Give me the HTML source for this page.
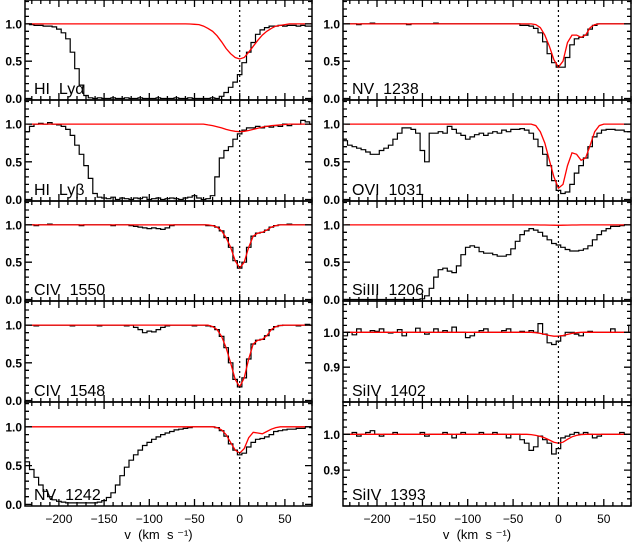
<!DOCTYPE html>
<html><head><meta charset="utf-8">
<style>
html,body{margin:0;padding:0;background:#fff;}
svg{display:block;}
text{font-family:"Liberation Sans",sans-serif;fill:#000;}
</style></head>
<body>
<svg id="chart" width="632" height="542" viewBox="0 0 632 542" xmlns="http://www.w3.org/2000/svg"></svg>
<script>
// velocity grid (km/s)
const velocities = [];
for (let v = -235; v <= 80; v += 5) velocities.push(v);

const xTicksMajor = [-200,-150,-100,-50,0,50];
const xTickLabels = ["\u2212200","\u2212150","\u2212100","\u221250","0","50"];

const obsLya = [1.0,0.99,0.98,0.98,0.97,0.97,0.96,0.93,
0.88,0.80,0.62,0.40,0.18,0.04,0.01,0.0,
0.01,0.0,0.0,0.01,0.0,0.0,0.01,0.0,
0.0,0.01,0.0,0.0,0.0,0.01,0.0,0.0,
0.0,0.01,0.0,0.0,0.01,0.0,0.0,0.0,
0.0,0.01,0.0,0.03,0.08,0.15,0.22,0.32,
0.48,0.62,0.75,0.86,0.92,0.95,0.97,0.97,
0.98,0.97,0.98,0.98,0.97,0.98,0.97,0.97];
const modLya = [1,1,1,1,1,1,1,1, 1,1,1,1,1,1,1,1, 1,1,1,1,1,1,1,1, 1,1,1,1,1,1,1,1,
1,1,1,1,0.998,0.995,0.99,0.97,
0.94,0.90,0.84,0.76,0.67,0.60,0.55,0.53,
0.55,0.62,0.70,0.78,0.85,0.90,0.94,0.97,
0.98,0.99,1,1,1,1,1,1];

const obsLyb = [0.90,0.97,1.0,1.01,1.0,1.02,1.0,0.99,
0.97,0.93,0.85,0.72,0.60,0.45,0.28,0.08,
0.03,0.02,0.01,0.03,0.0,0.02,0.01,0.0,
0.02,0.01,0.03,0.0,0.01,0.02,0.0,0.01,
0.02,0.01,0.0,0.02,0.03,0.05,0.02,0.0,
0.01,0.05,0.30,0.55,0.65,0.70,0.80,0.87,
0.92,0.95,0.95,0.97,0.95,0.97,0.96,0.98,
0.97,1.0,0.98,1.0,1.0,1.05,1.03,1.0];
const modLyb = [1,1,1,1,1,1,1,1, 1,1,1,1,1,1,1,1, 1,1,1,1,1,1,1,1, 1,1,1,1,1,1,1,1,
1,1,1,1,1,1,1,1,
0.99,0.98,0.965,0.95,0.93,0.915,0.905,0.90,
0.905,0.915,0.93,0.945,0.96,0.97,0.98,0.985,
0.99,0.995,1,1,1,1,1,1];

const obsC1550 = [1.0,1.0,0.99,1.0,1.0,1.01,1.0,1.0,
1.0,1.0,1.0,1.0,0.99,1.0,1.0,1.0,
1.0,1.0,1.0,0.99,1.0,1.0,1.0,0.99,
0.98,0.97,0.96,0.95,0.96,0.95,0.94,0.96,
0.99,1.0,1.0,1.0,1.0,1.0,1.0,1.0,
0.99,0.99,0.97,0.92,0.83,0.70,0.52,0.42,
0.50,0.70,0.85,0.89,0.90,0.93,0.97,0.99,
1.0,1.0,1.01,1.0,1.0,1.0,1.0,1.0];
const modC1550 = [1,1,1,1,1,1,1,1, 1,1,1,1,1,1,1,1, 1,1,1,1,1,1,1,1, 1,1,1,1,1,1,1,1,
1,1,1,1,1,1,1,1,
1,0.99,0.97,0.92,0.83,0.70,0.52,0.42,
0.50,0.70,0.85,0.89,0.90,0.93,0.97,0.99,
1,1,1,1,1,1,1,1];

const obsC1548 = [1.0,1.0,0.99,1.0,1.0,1.0,1.0,1.0,
1.0,1.0,0.99,1.0,1.0,1.0,1.0,1.0,
0.99,1.0,1.0,1.0,1.0,1.0,0.99,1.0,
0.97,0.94,0.90,0.92,0.91,0.94,0.97,0.99,
1.0,1.0,1.0,1.0,1.0,0.99,1.0,1.0,
0.99,0.98,0.94,0.85,0.70,0.50,0.28,0.18,
0.30,0.55,0.75,0.80,0.81,0.86,0.94,0.98,
0.995,1.0,1.0,1.0,0.99,1.0,1.01,1.0];
const modC1548 = [1,1,1,1,1,1,1,1, 1,1,1,1,1,1,1,1, 1,1,1,1,1,1,1,1, 1,1,1,1,1,1,1,1,
1,1,1,1,1,1,1,1,
1,0.98,0.94,0.85,0.70,0.50,0.28,0.18,
0.30,0.55,0.75,0.80,0.81,0.86,0.94,0.98,
0.995,1,1,1,1,1,1,1];

const obsN1242 = [0.55,0.45,0.35,0.25,0.17,0.10,0.06,0.04,
0.03,0.02,0.02,0.02,0.02,0.02,0.02,0.02,
0.03,0.05,0.09,0.15,0.25,0.37,0.48,0.57,
0.64,0.70,0.76,0.80,0.84,0.87,0.90,0.92,
0.94,0.96,0.97,0.98,0.99,1.0,1.0,1.0,
1.0,1.0,0.99,0.95,0.88,0.78,0.70,0.64,
0.66,0.74,0.80,0.84,0.85,0.87,0.90,0.94,
0.95,0.96,0.97,0.97,0.98,0.98,1.0,0.99];
const modN1242 = [1,1,1,1,1,1,1,1, 1,1,1,1,1,1,1,1, 1,1,1,1,1,1,1,1, 1,1,1,1,1,1,1,1,
1,1,1,1,1,1,1,1,
1,1,0.99,0.96,0.90,0.80,0.70,0.66,
0.72,0.86,0.93,0.92,0.91,0.94,0.97,0.99,
1,1,1,1,1,1,1,1];

const obsN1238 = [1.0,1.0,1.0,0.99,1.0,1.0,1.01,1.0,
1.0,1.0,1.0,1.0,1.0,1.0,0.99,1.0,
1.0,1.0,1.0,1.0,1.01,1.0,1.0,1.0,
1.0,1.0,1.0,1.0,1.0,1.0,1.0,1.0,
1.0,1.0,1.0,1.0,1.0,1.0,1.0,0.98,
0.98,0.97,0.94,0.88,0.76,0.60,0.48,0.42,
0.42,0.55,0.72,0.80,0.82,0.85,0.93,0.98,
1.0,1.0,1.0,1.0,1.0,1.0,1.0,1.0];
const modN1238 = [1,1,1,1,1,1,1,1, 1,1,1,1,1,1,1,1, 1,1,1,1,1,1,1,1, 1,1,1,1,1,1,1,1,
1,1,1,1,1,1,1,1,
1,1,0.99,0.95,0.85,0.70,0.52,0.42,
0.50,0.75,0.85,0.85,0.82,0.85,0.95,0.99,
1,1,1,1,1,1,1,1];

const obsO1031 = [0.78,0.72,0.70,0.68,0.66,0.63,0.60,0.60,
0.65,0.68,0.72,0.80,0.88,0.95,0.95,0.93,
0.88,0.65,0.50,0.88,0.88,0.90,0.88,0.97,
0.93,0.88,0.85,0.80,0.83,0.86,0.88,0.85,
0.88,0.90,0.88,0.92,0.90,0.93,0.93,0.94,
0.92,0.88,0.80,0.70,0.60,0.45,0.25,0.12,
0.08,0.10,0.20,0.35,0.45,0.55,0.70,0.83,
0.88,0.92,0.93,0.93,0.92,0.92,0.90,0.90];
const modO1031 = [1,1,1,1,1,1,1,1, 1,1,1,1,1,1,1,1, 1,1,1,1,1,1,1,1, 1,1,1,1,1,1,1,1,
1,1,1,1,1,1,1,1,
1,1,0.98,0.90,0.75,0.52,0.30,0.15,
0.20,0.45,0.62,0.60,0.52,0.55,0.72,0.90,
0.98,1,1,1,1,1,1,1];

const obsSi1206 = [0.0,0.0,0.0,0.0,0.0,0.0,0.0,0.0,
0.0,0.0,0.0,0.0,0.0,0.0,0.0,0.0,
0.0,0.01,0.05,0.15,0.30,0.40,0.42,0.38,
0.36,0.45,0.60,0.70,0.72,0.70,0.64,0.62,
0.62,0.60,0.58,0.58,0.60,0.68,0.78,0.87,
0.92,0.95,0.93,0.90,0.85,0.80,0.75,0.73,
0.70,0.67,0.65,0.65,0.66,0.68,0.72,0.80,
0.87,0.92,0.95,0.98,0.98,0.99,1.0,1.0];
const modSi1206 = [1,1,1,1,1,1,1,1, 1,1,1,1,1,1,1,1, 1,1,1,1,1,1,1,1, 1,1,1,1,1,1,1,1,
1,1,1,1,1,1,1,1,
1,1,1,0.999,0.998,0.997,0.996,0.995,
0.996,0.997,0.998,0.999,1,1,1,1,
1,1,1,1,1,1,1,1];

const obsSi1402 = [0.99,1.0,0.993,1.01,1.0,1.0,1.005,1.003,
1.01,1.0,0.998,1.0,1.008,0.99,1.0,1.0,
1.012,1.0,0.995,1.0,1.01,1.0,1.005,1.0,
1.015,1.0,1.0,0.985,0.99,1.0,1.005,1.01,
1.0,1.0,1.0,1.005,1.01,1.0,1.0,1.003,
1.0,1.005,1.0,1.025,0.995,0.97,0.965,0.975,
0.99,1.0,1.0,0.995,0.99,1.0,1.003,1.0,
1.0,1.0,1.0,1.01,1.0,1.0,1.0,1.02];
const modSi1402 = [1,1,1,1,1,1,1,1, 1,1,1,1,1,1,1,1, 1,1,1,1,1,1,1,1, 1,1,1,1,1,1,1,1,
1,1,1,1,1,1,1,1,
1,1,0.999,0.997,0.994,0.991,0.989,0.989,
0.991,0.994,0.997,0.999,1,1,1,1,
1,1,1,1,1,1,1,1];

const obsSi1393 = [1.0,1.0,1.005,0.995,1.0,1.005,1.01,1.0,
0.995,1.0,1.0,1.005,1.0,1.0,1.0,1.0,
1.0,1.005,0.995,1.0,1.0,1.0,1.005,1.0,
0.99,1.0,1.005,1.0,1.0,1.0,1.005,1.0,
1.0,1.005,1.0,1.0,0.99,1.0,1.0,0.985,
0.975,0.955,0.965,0.995,0.985,0.975,0.945,0.96,
0.99,0.995,1.0,1.005,1.0,1.005,1.0,0.99,
0.995,1.0,1.0,1.0,1.0,1.005,1.0,1.0];
const modSi1393 = [1,1,1,1,1,1,1,1, 1,1,1,1,1,1,1,1, 1,1,1,1,1,1,1,1, 1,1,1,1,1,1,1,1,
1,1,1,1,1,1,1,1,
1,0.999,0.997,0.994,0.99,0.984,0.978,0.975,
0.978,0.986,0.993,0.997,0.999,1,1,1,
1,1,1,1,1,1,1,1];

const NB = "\u00a0";
const panelLabels = ["HI"+NB+NB+"Ly\u03b1","HI"+NB+NB+"Ly\u03b2","CIV"+NB+NB+"1550","CIV"+NB+NB+"1548","NV"+NB+NB+"1242",
                     "NV"+NB+NB+"1238","OVI"+NB+NB+"1031","SiIII"+NB+NB+"1206","SiIV"+NB+NB+"1402","SiIV"+NB+NB+"1393"];
const obsSeries = [obsLya,obsLyb,obsC1550,obsC1548,obsN1242,obsN1238,obsO1031,obsSi1206,obsSi1402,obsSi1393];
const modSeries = [modLya,modLyb,modC1550,modC1548,modN1242,modN1238,modO1031,modSi1206,modSi1402,modSi1393];

const NS = "http://www.w3.org/2000/svg";
const svg = document.getElementById('chart');
const colX = [[25,312],[343,631]];
const rowY = [[0,100],[100,201],[201,301],[301,402],[402,506]];
const vMin = -237.5, vMax = 80;

function el(tag, attrs, parent) {
  const e = document.createElementNS(NS, tag);
  for (const k in attrs) e.setAttribute(k, attrs[k]);
  (parent || svg).appendChild(e);
  return e;
}

for (let p = 0; p < 10; p++) {
  const col = p < 5 ? 0 : 1, row = p % 5;
  const [x0, x1] = colX[col], [y0, y1] = rowY[row];
  const isSi = (p === 8 || p === 9);
  const yLo = isSi ? 0.80 : -0.02, yHi = isSi ? 1.09 : 1.32;
  const xs = v => x0 + (v - vMin) / (vMax - vMin) * (x1 - x0);
  const ys = f => y1 - (f - yLo) / (yHi - yLo) * (y1 - y0);

  const g = el('g', {});
  
  

  const clipId = 'clip' + p;
  const cp = el('clipPath', {id: clipId}, g);
  el('rect', {x: x0, y: y0, width: x1 - x0, height: y1 - y0}, cp);

  const obs = obsSeries[p];
  let d = '';
  for (let i = 0; i < velocities.length; i++) {
    const v = velocities[i];
    const y = ys(obs[i]).toFixed(1);
    d += (i === 0 ? 'M' : 'L') + xs(v - 2.5).toFixed(1) + ' ' + y + ' L' + xs(v + 2.5).toFixed(1) + ' ' + y + ' ';
  }
  const op = el('path', {d: d, fill: 'none', stroke: '#000', 'stroke-width': 1.2, 'clip-path': 'url(#' + clipId + ')'}, g);
  
  

  const mod = modSeries[p];
  let pts = velocities.map((v, i) => xs(v).toFixed(1) + ',' + ys(mod[i]).toFixed(1)).join(' ');
  const mp = el('polyline', {points: pts, fill: 'none', stroke: '#f00', 'stroke-width': 1.3, 'clip-path': 'url(#' + clipId + ')'}, g);
  
  

  const fr = el('rect', {x: x0, y: y0, width: x1 - x0, height: y1 - y0, fill: 'none', stroke: '#000', 'stroke-width': 1.5}, g);
  
  

  let td = '';
  for (let v = -230; v <= 80; v += 10) {
    const major = v % 50 === 0;
    const L = major ? 7 : 4;
    const x = xs(v).toFixed(1);
    td += `M${x} ${y0}V${y0 + L}M${x} ${y1}V${y1 - L}`;
  }
  const step = isSi ? 0.02 : 0.1;
  for (let k = Math.ceil(yLo / step); k * step <= yHi + 1e-9; k++) {
    const f = k * step;
    const major = isSi ? (Math.abs(f * 10 - Math.round(f * 10)) < 1e-6) : (Math.abs(f * 2 - Math.round(f * 2)) < 1e-6);
    const L = major ? 7 : 4;
    const y = ys(f).toFixed(1);
    td += `M${x0} ${y}H${x0 + L}M${x1} ${y}H${x1 - L}`;
  }
  el('path', {d: td, stroke: '#000', 'stroke-width': 1.3, fill: 'none'}, g);

  const yl = isSi ? [0.9, 1.0] : [0.0, 0.5, 1.0];
  yl.forEach(f => {
    const t = el('text', {x: x0 - 3, y: ys(f) + 4.5, 'text-anchor': 'end', 'font-size': 12, 'font-weight': 'bold'}, g);
    t.textContent = f.toFixed(1);
    
    
  });

  const lb = el('text', {x: x0 + 9, y: y1 - 6, 'font-size': 16}, g);
  lb.textContent = panelLabels[p];
  
  

  const zl = el('line', {x1: xs(0), x2: xs(0), y1: y0, y2: y1, stroke: '#000', 'stroke-width': 1.2, 'stroke-dasharray': '2,3'}, g);
  
  

  if (row === 4) {
    xTicksMajor.forEach((v, i) => {
      const t = el('text', {x: xs(v), y: y1 + 17, 'text-anchor': 'middle', 'font-size': 12}, g);
      t.textContent = xTickLabels[i];
      
      
    });
    const at = el('text', {x: (x0 + x1) / 2 - 10, y: 539, 'text-anchor': 'middle', 'font-size': 13}, g);
    at.textContent = 'v' + NB + NB + '(km' + NB + NB + 's' + NB + '\u207B\u00B9)';
    
    
  }
}
</script>
</body></html>
